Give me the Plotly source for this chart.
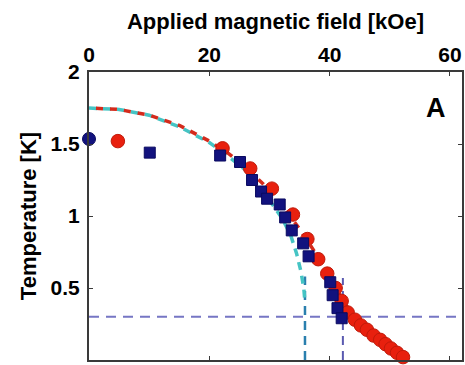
import plotly.graph_objects as go

# ---- data ----
red_circ_x = [4.8, 22.2, 26.8, 30.4, 33.9, 36.3, 38.1, 39.6, 41.0, 42.0, 43.0, 44.2, 45.2, 46.2, 47.3, 48.4, 49.3, 50.2, 51.2, 52.2]
red_circ_t = [1.52, 1.47, 1.33, 1.19, 1.01, 0.84, 0.70, 0.60, 0.50, 0.41, 0.33, 0.28, 0.24, 0.21, 0.17, 0.14, 0.11, 0.08, 0.05, 0.02]

navy_sq_x = [10.1, 21.8, 25.1, 27.1, 28.6, 29.6, 31.7, 32.6, 33.7, 35.6, 36.5, 40.1, 40.5, 41.3, 42.0]
navy_sq_t = [1.44, 1.42, 1.375, 1.25, 1.17, 1.12, 1.08, 0.99, 0.90, 0.81, 0.72, 0.54, 0.45, 0.36, 0.29]

navy_circ_x = [0.0]
navy_circ_t = [1.535]

red_fit_x = [0, 5, 10, 15, 20, 23, 26, 29, 32, 35, 38, 40, 42, 44, 46, 48, 50, 52]
red_fit_t = [1.75, 1.74, 1.70, 1.63, 1.52, 1.44, 1.34, 1.22, 1.08, 0.91, 0.72, 0.58, 0.43, 0.29, 0.19, 0.12, 0.06, 0.01]

cyan_fit_x = [0, 5, 10, 15, 20, 23, 26, 28, 30, 32, 33.5, 34.5, 35.2, 35.7, 35.9]
cyan_fit_t = [1.75, 1.74, 1.70, 1.62, 1.51, 1.42, 1.32, 1.22, 1.11, 0.99, 0.87, 0.74, 0.62, 0.50, 0.40]

vline1_x = [35.9, 35.9]
vline1_t = [0.0, 0.58]
vline2_x = [42.2, 42.2]
vline2_t = [0.0, 0.57]
hline_t = 0.30

x_ticks = [0, 20, 40, 60]
y_ticks = [0, 0.5, 1, 1.5, 2]
y_tick_text = ["0", "0.5", "1", "1.5", "2"]

FONT = "Liberation Sans, Arial, sans-serif"

fig = go.Figure()

# horizontal dashed line
fig.add_trace(go.Scatter(x=[0, 62], y=[hline_t, hline_t], mode="lines",
                         line=dict(color="#7676c4", width=2, dash="10px,7px"),
                         hoverinfo="skip", showlegend=False))
# vertical dashed lines
fig.add_trace(go.Scatter(x=vline1_x, y=vline1_t, mode="lines",
                         line=dict(color="#2a7fae", width=2.5, dash="9px,6px"),
                         showlegend=False))
fig.add_trace(go.Scatter(x=vline2_x, y=vline2_t, mode="lines",
                         line=dict(color="#5a5ab0", width=2, dash="9px,6px"),
                         showlegend=False))
# fit curves
fig.add_trace(go.Scatter(x=cyan_fit_x, y=cyan_fit_t, mode="lines",
                         line=dict(color="#45c4c4", width=3.5, dash="8px,6px"),
                         showlegend=False))
fig.add_trace(go.Scatter(x=red_fit_x, y=red_fit_t, mode="lines",
                         line=dict(color="#d42a1c", width=3.5, dash="0px,7px,7px,0px"),
                         showlegend=False))
# data markers
fig.add_trace(go.Scatter(x=red_circ_x, y=red_circ_t, mode="markers",
                         marker=dict(symbol="circle", size=13.5, color="#e8200e",
                                     line=dict(color="#c01a0a", width=1)),
                         showlegend=False, cliponaxis=False))
fig.add_trace(go.Scatter(x=navy_sq_x, y=navy_sq_t, mode="markers",
                         marker=dict(symbol="square", size=11, color="#12127e",
                                     line=dict(color="#0a0a60", width=1)),
                         showlegend=False, cliponaxis=False))
fig.add_trace(go.Scatter(x=navy_circ_x, y=navy_circ_t, mode="markers",
                         marker=dict(symbol="circle", size=13, color="#12127e",
                                     line=dict(color="#0a0a60", width=1)),
                         showlegend=False, cliponaxis=False))

fig.add_annotation(text="<b>A</b>", x=0.93, y=0.875, xref="paper", yref="paper",
                   xanchor="center", yanchor="middle",
                   showarrow=False, font=dict(family=FONT, size=27, color="black"))

axis_common = dict(showgrid=False, zeroline=False, showline=True, linecolor="#3a3a3a",
                   linewidth=2, ticks="inside", ticklen=4, tickcolor="#3a3a3a",
                   mirror="ticks", automargin=False)

fig.update_layout(
    width=465, height=365,
    margin=dict(l=89, r=3, t=72, b=5),
    paper_bgcolor="white", plot_bgcolor="white",
    xaxis=dict(range=[0, 62], side="top", tickvals=x_ticks,
               ticktext=[str(v) for v in x_ticks],
               tickfont=dict(family=FONT, size=21, color="black", weight="bold"),
               title=dict(text="Applied magnetic field [kOe]", standoff=7,
                          font=dict(family=FONT, size=22, color="black", weight="bold")),
               **axis_common),
    yaxis=dict(range=[0, 2], tickvals=y_ticks, ticktext=y_tick_text,
               tickfont=dict(family=FONT, size=21, color="black", weight="bold"),
               ticklabelstandoff=3,
               title=dict(text="Temperature [K]", standoff=8,
                          font=dict(family=FONT, size=22, color="black", weight="bold")),
               **axis_common),
)

fig.write_html("out.html", config={"displayModeBar": False},
               post_script="document.body.style.margin='0';document.body.style.overflow='hidden';")
